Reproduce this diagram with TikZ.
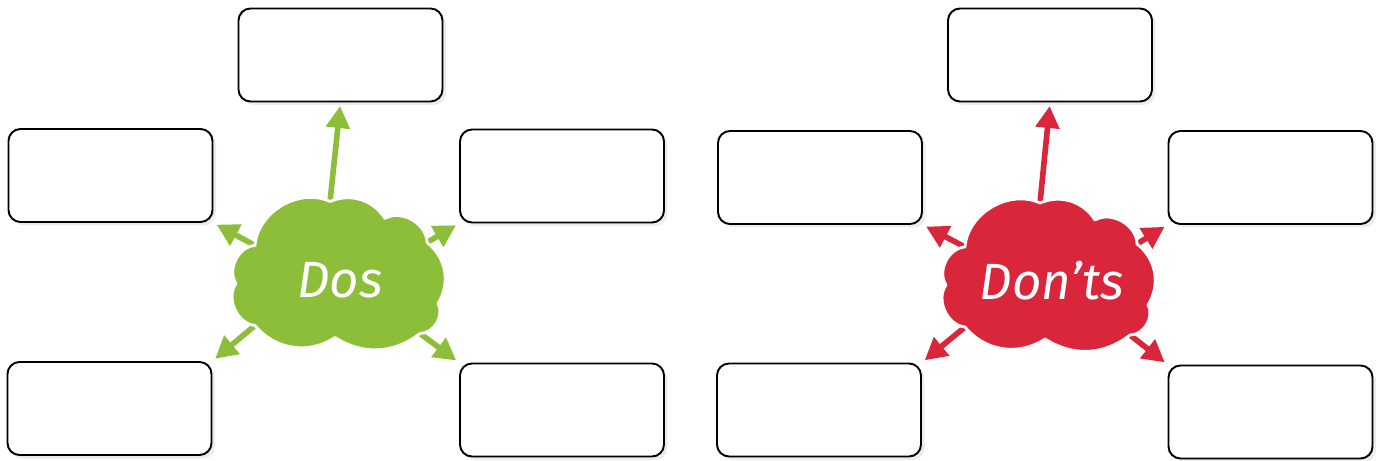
\documentclass[tikz,border=0pt]{standalone}
\usepackage{fontspec}
\newfontfamily\cloudfont{Fira Sans}
\usetikzlibrary{positioning,arrows.meta,shadows,backgrounds}

\definecolor{dosgreen}{RGB}{141,190,58}
\definecolor{dontred}{RGB}{218,38,58}

% hand drawn cloud, corners are the notches the arrows leave from
\tikzset{
	pics/mind cloud/.style={code={
		\coordinate (-t) at (-0.16,1.44);
		\coordinate (-a) at (0.94,1.10);
		\coordinate (-n1) at (-1.66,0.56);
		\coordinate (-n3) at (1.78,0.62);
		\coordinate (-n4) at (2.0,-0.6);
		\coordinate (-n5) at (1.64,-1.20);
		\coordinate (-n6) at (-0.06,-1.28);
		\coordinate (-n7) at (-1.66,-1.04);
		\coordinate (-n8) at (-2.04,-0.2);
		\draw[white, line width=1.6pt, line join=round, fill=#1]
			(-n1) to[bend left=55] (-t) to[bend left=40] (-a) to[bend left=60] (-n3)
			to[bend left=42] (-n4) to[bend left=60] (-n5) to[bend left=35] (-n6)
			to[bend left=42] (-n7) to[bend left=60] (-n8) to[bend left=60] (-n1) -- cycle;
	}}
}

\begin{document}
\begin{tikzpicture}[
		>=Triangle,
		thick,
		answer_box/.style={
			rectangle, rounded corners=0.24cm, draw=black, line width=1.1pt, fill=white,
			minimum width=4.08cm, minimum height=1.86cm,
			drop shadow={shadow xshift=0.07cm, shadow yshift=-0.07cm, opacity=0.15}
		},
		cloud_text/.style={text=white, font=\cloudfont\itshape\fontsize{29}{34}\selectfont},
		dos_arrow/.style={->, line width=3.2pt, draw=dosgreen, shorten >=2pt, shorten <=-0.3cm,
			arrows={-Triangle[length=0.44cm, width=0.46cm]}},
		dont_arrow/.style={->, line width=3.2pt, draw=dontred, shorten >=2pt, shorten <=-0.3cm,
			arrows={-Triangle[length=0.44cm, width=0.46cm]}}
		]
		
		\useasboundingbox (0,0) rectangle (27.6,-9.22);
		
		% --- DOS GROUP (left) ---
		\pic (dos) at (6.76,-5.47) {mind cloud=dosgreen};
		\node[cloud_text] (dos_text) at (6.80,-5.60) {Dos};
		
		\node[answer_box] (dos_top) at (6.81,-1.10) {};
		\node[answer_box] (dos_lm) at (2.21,-3.51) {};
		\node[answer_box] (dos_rm) at (11.24,-3.52) {};
		\node[answer_box] (dos_lb) at (2.19,-8.17) {};
		\node[answer_box] (dos_rb) at (11.24,-8.20) {};
		
		% arrows run out from under the cloud
		\begin{scope}[on background layer]
			\draw[dos_arrow] (dos-t) -- (dos_top.south);
			\draw[dos_arrow] (dos-n1) -- (dos_lm.south east);
			\draw[dos_arrow] (dos-n3) -- (dos_rm.south west);
			\draw[dos_arrow] (dos-n7) -- (dos_lb.north east);
			\draw[dos_arrow] (dos-n5) -- (dos_rb.north west);
		\end{scope}
		
		
		% --- DON'TS GROUP (right) ---
		\pic (dont) at (20.96,-5.50) {mind cloud=dontred};
		\node[cloud_text] (dont_text) at (21.04,-5.62) {Don’ts};
		
		\node[answer_box] (dont_top) at (21.00,-1.10) {};
		\node[answer_box] (dont_lm) at (16.40,-3.55) {};
		\node[answer_box] (dont_rm) at (25.41,-3.55) {};
		\node[answer_box] (dont_lb) at (16.38,-8.20) {};
		\node[answer_box] (dont_rb) at (25.41,-8.24) {};
		
		\begin{scope}[on background layer]
			\draw[dont_arrow] (dont-t) -- (dont_top.south);
			\draw[dont_arrow] (dont-n1) -- (dont_lm.south east);
			\draw[dont_arrow] (dont-n3) -- (dont_rm.south west);
			\draw[dont_arrow] (dont-n7) -- (dont_lb.north east);
			\draw[dont_arrow] (dont-n5) -- (dont_rb.north west);
		\end{scope}
		
	\end{tikzpicture}
\end{document}
